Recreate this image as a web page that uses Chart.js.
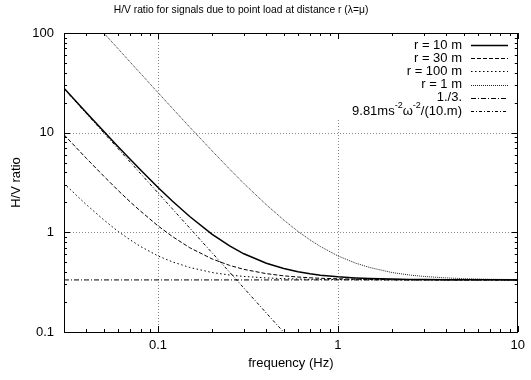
<!DOCTYPE html>
<html>
<head>
<meta charset="utf-8">
<script src="https://cdn.jsdelivr.net/npm/chart.js@4.4.0/dist/chart.umd.min.js"></script>
<style>
  html, body { margin: 0; padding: 0; background: #fff; }
</style>
</head>
<body>
<canvas id="hv" width="531" height="380"></canvas>
<script>
const freqs = [0.03, 0.04, 0.05, 0.06, 0.07, 0.08, 0.1, 0.12, 0.15, 0.2, 0.25, 0.3, 0.4, 0.5,
  0.6, 0.7, 0.8, 1, 1.25, 1.5, 2, 2.5, 3, 4, 5, 7, 10];

// H/V ratio per source distance
const r10 = [27.9, 15.86, 10.27, 7.24, 5.40, 4.22, 2.82, 2.06, 1.44, 0.955, 0.731, 0.609, 0.489, 0.433,
  0.402, 0.384, 0.372, 0.358, 0.349, 0.344, 0.340, 0.337, 0.336, 0.335, 0.334, 0.334, 0.333];
const r30 = [9.54, 5.51, 3.65, 2.63, 2.02, 1.63, 1.16, 0.909, 0.701, 0.540, 0.466, 0.425, 0.385, 0.366,
  0.356, 0.350, 0.346, 0.342, 0.339, 0.337, 0.335, 0.334, 0.334, 0.333, 0.333, 0.333, 0.333];
const r100 = [3.09, 1.89, 1.33, 1.02, 0.84, 0.72, 0.58, 0.506, 0.444, 0.395, 0.373, 0.361, 0.349, 0.343,
  0.340, 0.338, 0.337, 0.336, 0.335, 0.334, 0.333, 0.333, 0.333, 0.333, 0.333, 0.333, 0.333];
const r1 = [276, 156, 99.7, 69.4, 51.0, 39.2, 25.2, 17.6, 11.37, 6.55, 4.31, 3.09, 1.89, 1.33,
  1.02, 0.84, 0.72, 0.58, 0.492, 0.444, 0.395, 0.373, 0.361, 0.349, 0.343, 0.338, 0.336];
const third = [0.333, 0.333, 0.333, 0.333, 0.333, 0.333, 0.333, 0.333, 0.333, 0.333, 0.333, 0.333, 0.333, 0.333,
  0.333, 0.333, 0.333, 0.333, 0.333, 0.333, 0.333, 0.333, 0.333, 0.333, 0.333, 0.333, 0.333];
const gravity = [27.6, 15.53, 9.94, 6.90, 5.07, 3.88, 2.485, 1.726, 1.104, 0.621, 0.398, 0.276, 0.155, 0.0994,
  0.069, null, null, null, null, null, null, null, null, null, null, null, null];

const xTickVals = [0.1, 1, 10];
const yTickVals = [0.1, 1, 10, 100];

const FONT = '"Liberation Sans", Arial, Helvetica, sans-serif';

function pts(vals) {
  return freqs.map((f, i) => ({ x: f, y: vals[i] }));
}

const series = [
  { label: 'r = 10 m', data: r10, color: '#000', width: 1.5, dash: [] },
  { label: 'r = 30 m', data: r30, color: '#000', width: 1, dash: [4, 2] },
  { label: 'r = 100 m', data: r100, color: '#000', width: 1, dash: [1.5, 2.5] },
  { label: 'r = 1 m', data: r1, color: '#222', width: 1, dash: [1, 1] },
  { label: '1./3.', data: third, color: '#000', width: 1, dash: [5, 2, 1, 2] },
  { label: 'g', data: gravity, color: '#000', width: 1, dash: [3, 2, 1, 2] }
];

// legend text, with superscripts for the last entry
const legendText = [
  [['r = 10 m', 0]],
  [['r = 30 m', 0]],
  [['r = 100 m', 0]],
  [['r = 1 m', 0]],
  [['1./3.', 0]],
  [['9.81ms', 0], ['-2', 1], ['\u03c9', 0], ['-2', 1], ['/(10.m)', 0]]
];

function line(ctx, x1, y1, x2, y2) {
  ctx.beginPath();
  ctx.moveTo(x1, y1);
  ctx.lineTo(x2, y2);
  ctx.stroke();
}

const gnuplotLook = {
  id: 'gnuplotLook',
  beforeDatasetsDraw(chart) {
    const { ctx, chartArea: a, scales: { x, y } } = chart;
    ctx.save();
    ctx.strokeStyle = '#888';
    ctx.lineWidth = 1;
    ctx.setLineDash([1, 2]);
    [0.1, 1].forEach(v => {
      const px = Math.round(x.getPixelForValue(v)) + 0.5;
      line(ctx, px, a.top, px, a.bottom);
    });
    [1, 10].forEach(v => {
      const py = Math.round(y.getPixelForValue(v)) + 0.5;
      line(ctx, a.left, py, a.right, py);
    });
    // key area is opaque in the original
    ctx.fillStyle = '#fff';
    ctx.fillRect(334, a.top + 1, a.right - 335, 85);
    ctx.restore();
  },
  afterDatasetsDraw(chart) {
    const { ctx, chartArea: a, scales: { x, y } } = chart;
    ctx.save();
    ctx.strokeStyle = '#000';
    ctx.lineWidth = 1;
    ctx.setLineDash([]);
    ctx.strokeRect(Math.round(a.left) + 0.5, Math.round(a.top) + 0.5,
      Math.round(a.right - a.left) - 1, Math.round(a.bottom - a.top));
    // ticks inside the frame, on all four sides
    for (let d = 0.01; d <= 100; d *= 10) {
      for (let m = 1; m <= 9; m++) {
        const v = +(m * d).toPrecision(3);
        const len = m === 1 ? 6 : 3;
        if (v >= x.min && v <= x.max) {
          const px = Math.round(x.getPixelForValue(v)) + 0.5;
          line(ctx, px, a.bottom, px, a.bottom - len);
          line(ctx, px, a.top, px, a.top + len);
        }
        if (v >= y.min && v <= y.max) {
          const py = Math.round(y.getPixelForValue(v)) + 0.5;
          line(ctx, a.left, py, a.left + len, py);
          line(ctx, a.right, py, a.right - len, py);
        }
      }
    }
    ctx.restore();
  },
  afterDraw(chart) {
    const { ctx } = chart;
    ctx.save();
    ctx.fillStyle = '#000';
    ctx.textBaseline = 'middle';
    ctx.textAlign = 'center';
    ctx.font = '10.3px ' + FONT;
    ctx.fillText('H/V ratio for signals due to point load at distance r (\u03bb=\u03bc)', 241, 10);

    // key: right-aligned text, sample line to its right
    const textRight = 462, x1 = 471, x2 = 508;
    legendText.forEach((parts, i) => {
      const yy = 45 + i * 13.2;
      let w = 0;
      parts.forEach(([t, sup]) => {
        ctx.font = (sup ? '9px ' : '13px ') + FONT;
        w += ctx.measureText(t).width;
      });
      let xx = textRight - w;
      ctx.textAlign = 'left';
      parts.forEach(([t, sup]) => {
        ctx.font = (sup ? '9px ' : '13px ') + FONT;
        ctx.fillText(t, xx, sup ? yy - 5 : yy);
        xx += ctx.measureText(t).width;
      });
      const s = series[i];
      ctx.strokeStyle = s.color;
      ctx.lineWidth = s.width;
      ctx.setLineDash(s.dash);
      line(ctx, x1, Math.round(yy) + 0.5, x2, Math.round(yy) + 0.5);
    });
    ctx.restore();
  }
};

new Chart(document.getElementById('hv'), {
  type: 'line',
  data: {
    datasets: series.map(s => ({
      label: s.label,
      data: pts(s.data),
      borderColor: s.color,
      borderWidth: s.width,
      borderDash: s.dash,
      pointRadius: 0,
      fill: false,
      tension: 0,
      spanGaps: false
    }))
  },
  options: {
    responsive: false,
    animation: false,
    devicePixelRatio: 1,
    layout: { padding: { top: 33, right: 8, left: 0, bottom: 0 } },
    plugins: {
      legend: { display: false },
      tooltip: { enabled: false },
      title: { display: false }
    },
    scales: {
      x: {
        type: 'logarithmic',
        min: 0.03,
        max: 10,
        grid: { display: false, drawTicks: false },
        border: { display: false },
        afterBuildTicks: s => { s.ticks = xTickVals.map(v => ({ value: v })); },
        afterFit: s => { s.height = 48; },
        ticks: {
          color: '#000',
          font: { family: FONT, size: 13 },
          padding: 6,
          maxRotation: 0,
          autoSkip: false,
          callback: v => String(v)
        },
        title: {
          display: true,
          text: 'frequency (Hz)',
          color: '#000',
          font: { family: FONT, size: 13 },
          padding: { top: 9, bottom: 9 }
        }
      },
      y: {
        type: 'logarithmic',
        min: 0.1,
        max: 100,
        grid: { display: false, drawTicks: false },
        border: { display: false },
        afterBuildTicks: s => { s.ticks = yTickVals.map(v => ({ value: v })); },
        afterFit: s => { s.width = 64; },
        ticks: {
          color: '#000',
          font: { family: FONT, size: 13 },
          padding: 10,
          autoSkip: false,
          callback: v => String(v)
        },
        title: {
          display: true,
          text: 'H/V ratio',
          color: '#000',
          font: { family: FONT, size: 13 },
          padding: { top: 9, bottom: 0 }
        }
      }
    }
  },
  plugins: [gnuplotLook]
});
</script>
</body>
</html>
